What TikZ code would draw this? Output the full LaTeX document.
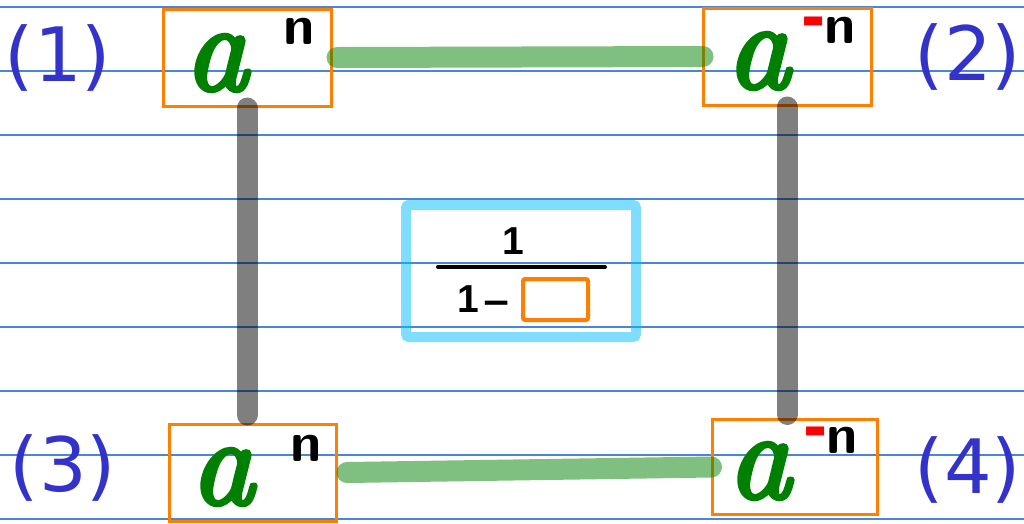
\documentclass[tikz,border=0pt]{standalone}
\usepackage{fontspec}
\newfontfamily\labelfont{DejaVu Sans}
\newfontfamily\digitfont{Liberation Sans}
\newfontface\afont{lmroman10-italic}[Extension=.otf,FakeBold=3.5]
\definecolor{gridblue}{HTML}{4A86D8}
\definecolor{boxorange}{HTML}{FF8000}
\definecolor{labelblue}{HTML}{3333CC}
\definecolor{agreen}{HTML}{008000}
\definecolor{cyanbox}{HTML}{00BFFF}
\definecolor{dashred}{HTML}{FF0000}
\begin{document}
\begin{tikzpicture}[x=1pt,y=-1pt,
  gridline/.style={gridblue,line width=1.2pt},
  termbox/.style={draw=boxorange,line width=3pt,inner sep=0pt,outer sep=0pt,minimum width=168pt,minimum height=97pt},
  letter/.style={text=agreen,inner sep=4pt,font=\fontsize{124}{124}\selectfont\afont},
  expo/.style={text=black,inner sep=0pt,font=\fontsize{56}{56}\selectfont\sffamily\bfseries},
  negsign/.style={text=dashred,inner sep=0pt,font=\fontsize{24}{24}\selectfont\labelfont\bfseries},
  numlabel/.style={text=labelblue,inner sep=0pt,font=\fontsize{75}{75}\selectfont\labelfont},
  greenlink/.style={draw=agreen,draw opacity=0.5,line width=21pt,line cap=round},
  graylink/.style={draw=black,draw opacity=0.5,line width=21pt,line cap=round},
  fracdigit/.style={text=black,inner sep=0pt,font=\fontsize{39}{39}\selectfont\digitfont\bfseries},
]
\useasboundingbox (0,0) rectangle (1024,523);
\fill[white] (0,0) rectangle (1024,523);
\foreach \yy in {7,71,135,199,263,327,391,455,519}
  \draw[gridline] (0,\yy) -- (1024,\yy);

% boxes
\node[termbox] (b1) at (247,57.5) {};
\node[termbox] (b2) at (787,56.5) {};
\node[termbox,minimum width=167pt] (b3) at (252.5,472.5) {};
\node[termbox,minimum width=165pt,minimum height=95pt] (b4) at (795,467) {};

% letters
\node[letter] (a1) at (216,63) {a};
\node[letter] (a2) at (758,61) {a};
\node[letter] (a3) at (222,477) {a};
\node[letter] (a4) at (759,471) {a};

\node[expo] (n1) at (299,31) {n};
\node[expo] (n2) at (840,30) {n};
\node[expo] (n3) at (306,448) {n};
\node[expo] (n4) at (842,440) {n};

\node[negsign] (m2) at (814,31) {\scalebox{1.2}[3.2]{−}};
\node[negsign] (m4) at (816,441) {\scalebox{1.2}[3.2]{−}};

% labels
\node[numlabel] (l1) at (58,58) {(1)};
\node[numlabel] (l2) at (968,57) {(2)};
\node[numlabel] (l3) at (63,468) {(3)};
\node[numlabel] (l4) at (968,470) {(4)};

% connectors
\draw[greenlink] ([xshift=6pt]b1.east) -- (b2.west);
\draw[greenlink] ([xshift=11pt]b3.east) -- ([xshift=-1pt]b4.west);
\draw[graylink,shorten <=2pt,shorten >=9pt] (b1.south) -- (b1.south |- b3.north);
\draw[graylink,shorten <=2pt,shorten >=5pt] (b2.south) -- (b2.south |- b4.north);

% center fraction
\node[draw=cyanbox,draw opacity=0.5,line width=10pt,rounded corners=3pt,inner sep=0pt,outer sep=0pt,minimum width=230pt,minimum height=132pt] (cbox) at (521,271) {};
\node[fracdigit] (num) at (513,241) {1};
\coordinate (barl) at (438,267);
\coordinate (barr) at (605,267);
\draw[line width=4pt,line cap=round] (barl) -- (barr);
\node[fracdigit] (den) at (468,299) {1};
\node[text=black,inner sep=0pt,font=\fontsize{36}{36}\selectfont\labelfont\bfseries] (minus) at (497,308) {−};
\node[draw=boxorange,line width=4pt,rounded corners=2pt,inner sep=0pt,minimum width=65pt,minimum height=41pt] (slot) at (555.5,299.5) {};
\end{tikzpicture}
\end{document}
